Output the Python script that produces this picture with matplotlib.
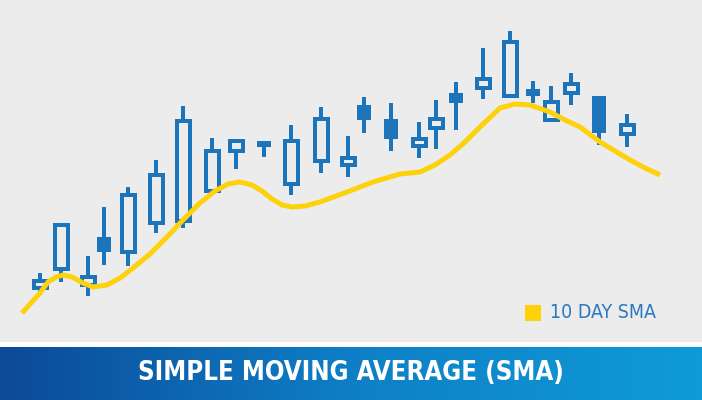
import numpy as np
import matplotlib
matplotlib.use("Agg")
import matplotlib.pyplot as plt
from matplotlib.patches import Rectangle
from matplotlib.colors import LinearSegmentedColormap

# candle positions (px along the chart) and OHLC prices
days = [40, 61, 88, 104, 128, 156, 183, 212, 236, 264, 291, 321, 348,
        364, 391, 419, 436, 456, 483, 510, 533, 551, 571, 599, 627]
opens = [110, 129, 113, 163, 146, 175, 177, 207, 247, 259, 214, 237, 233,
         295, 281, 252, 270, 307, 310, 302, 311, 278, 305, 304, 264]
highs = [127, 177, 144, 193, 213, 240, 294, 262, 261, 259, 275, 293, 264,
         303, 297, 278, 300, 318, 352, 369, 319, 314, 327, 304, 286]
lows = [105, 118, 104, 135, 134, 167, 172, 207, 231, 243, 205, 227, 223,
        267, 249, 242, 251, 270, 301, 302, 297, 278, 295, 255, 253]
closes = [121, 177, 125, 148, 207, 227, 281, 251, 261, 253, 261, 283, 244,
          280, 261, 263, 283, 297, 323, 360, 304, 300, 318, 267, 277]

# 10 day SMA
sma_x = [22, 40, 48, 56, 63, 72, 83, 93, 107, 120, 133, 150, 167, 183, 200,
         215, 228, 240, 252, 262, 272, 282, 292, 305, 320, 347, 373, 400, 420,
         435, 450, 465, 480, 500, 515, 530, 550, 565, 580, 600, 615, 630,
         645, 660]
sma_y = [87, 107, 118, 123, 125, 123, 117, 113, 115, 122, 132, 146, 163, 180,
         197, 209, 216, 218, 215, 209, 201, 195, 193, 194, 198, 208, 218, 226,
         228, 235, 245, 258, 273, 292, 296, 295, 288, 280, 273, 258, 249, 240,
         232, 225]

BLUE = "#1c74bb"
YELLOW = "#fdd20a"
BG = "#ececec"
PX = 72 / 100  # points per pixel

fig = plt.figure(figsize=(7.02, 4.0), dpi=100)
fig.patch.set_facecolor("white")

# chart area
ax = fig.add_axes([0, 58 / 400, 1, 342 / 400])
ax.set_xlim(0, 702)
ax.set_ylim(58, 400)
ax.axis("off")
ax.add_patch(Rectangle((0, 58), 702, 342, facecolor=BG, edgecolor="none", zorder=0))

lw = 4
for x, o, h, l, c in zip(days, opens, highs, lows, closes):
    ax.vlines(x, l, h, color=BLUE, lw=lw * PX, zorder=2)
    top, bot = max(o, c), min(o, c)
    if c >= o:
        ax.add_patch(Rectangle((x - 8 + lw / 2, bot + lw / 2), 17 - lw, top - bot - lw,
                               facecolor=BG, edgecolor=BLUE, lw=lw * PX, zorder=3))
    else:
        ax.add_patch(Rectangle((x - 7, bot), 14, top - bot,
                               facecolor=BLUE, edgecolor="none", zorder=3))

ax.plot(sma_x, sma_y, color=YELLOW, lw=5 * PX, solid_joinstyle="round",
        solid_capstyle="butt", zorder=4)

# legend
ax.add_patch(Rectangle((525, 79), 16, 16, facecolor=YELLOW, edgecolor="none"))
ax.text(550, 87, "10 DAY SMA", color="#2a78c0", fontsize=14,
        fontstretch="condensed", va="center", ha="left")

# title band
bax = fig.add_axes([0, 0, 1, 53 / 400])
cmap = LinearSegmentedColormap.from_list("band", ["#0c4a98", "#0e7fc6", "#0e9bd8"])
bax.imshow(np.linspace(0, 1, 256)[None, :], aspect="auto", cmap=cmap,
           extent=(0, 1, 0, 1))
bax.axis("off")
bax.text(0.5, 0.5, "SIMPLE MOVING AVERAGE (SMA)", color="white",
         fontsize=18.5, fontweight="bold", fontstretch="condensed",
         ha="center", va="center", transform=bax.transAxes)

fig.savefig("out.png", dpi=100)
